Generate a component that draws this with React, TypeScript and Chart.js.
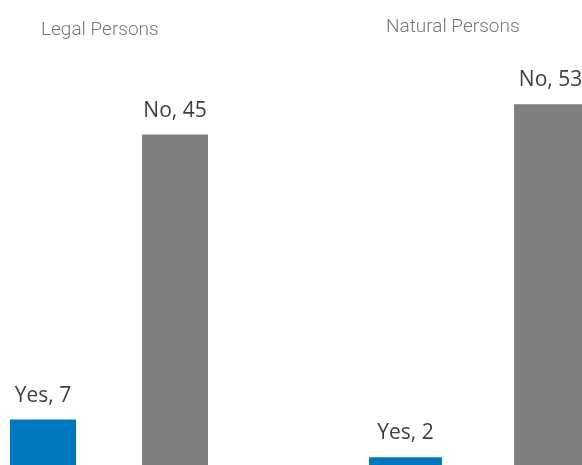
import React, { useEffect, useRef } from "react";
import { Chart, registerables } from "chart.js";

Chart.register(...registerables);

const categories = ["Yes", "No"];
const legalValues = [7, 45];
const naturalValues = [2, 53];
const barColors = ["#0078C0", "#7F7F7F"];
const legalTitle = "Legal Persons";
const naturalTitle = "Natural Persons";

const labelPlugin = {
  id: "barLabels",
  afterDatasetsDraw(chart: any) {
    const ctx = chart.ctx;
    const meta = chart.getDatasetMeta(0);
    const ds = chart.data.datasets[0];
    ctx.save();
    ctx.font = "21px 'Open Sans', 'Noto Sans', sans-serif";
    ctx.fillStyle = "#3f3f3f";
    ctx.textAlign = "center";
    ctx.textBaseline = "alphabetic";
    meta.data.forEach((bar: any, i: number) => {
      ctx.fillText(`${chart.data.labels[i]}, ${ds.data[i]}`, bar.x, bar.y - 18);
    });
    const t = chart.options.plugins.panelTitle;
    if (t) {
      ctx.font = "300 19px Roboto, sans-serif";
      ctx.fillStyle = "#767676";
      ctx.textAlign = "left";
      ctx.fillText(t.text, t.x, t.y);
    }
    ctx.restore();
  },
};

function Panel(props: {
  values: number[];
  max: number;
  barPct: number;
  left: number;
  width: number;
  height: number;
  title: string;
  titleX: number;
  titleY: number;
}) {
  const ref = useRef<HTMLCanvasElement>(null);
  useEffect(() => {
    const chart = new Chart(ref.current!, {
      type: "bar",
      data: {
        labels: categories,
        datasets: [
          {
            data: props.values,
            backgroundColor: barColors,
            borderWidth: 0,
            categoryPercentage: 1,
            barPercentage: props.barPct,
          },
        ],
      },
      options: {
        responsive: false,
        animation: false,
        layout: { padding: 0 },
        plugins: {
          legend: { display: false },
          tooltip: { enabled: false },
          panelTitle: { text: props.title, x: props.titleX, y: props.titleY },
        } as any,
        scales: {
          x: { display: false },
          y: { display: false, min: 0, max: props.max },
        },
      },
      plugins: [labelPlugin],
    });
    return () => chart.destroy();
  }, []);
  return (
    <canvas
      ref={ref}
      width={props.width}
      height={props.height}
      style={{ position: "absolute", left: props.left, top: 0, width: props.width, height: props.height }}
    />
  );
}

export default function App() {
  return (
    <div
      style={{
        position: "fixed",
        left: 0,
        top: 0,
        width: 582,
        height: 465,
        overflow: "hidden",
        background: "#fff",
      }}
    >
      <Panel
        values={legalValues}
        max={472 / 7.5}
        barPct={0.5}
        left={-23}
        width={264}
        height={472}
        title={legalTitle}
        titleX={64}
        titleY={35}
      />
      <Panel
        values={naturalValues}
        max={471 / 6.92}
        barPct={0.503}
        left={333}
        width={290}
        height={471}
        title={naturalTitle}
        titleX={53}
        titleY={32}
      />
    </div>
  );
}
